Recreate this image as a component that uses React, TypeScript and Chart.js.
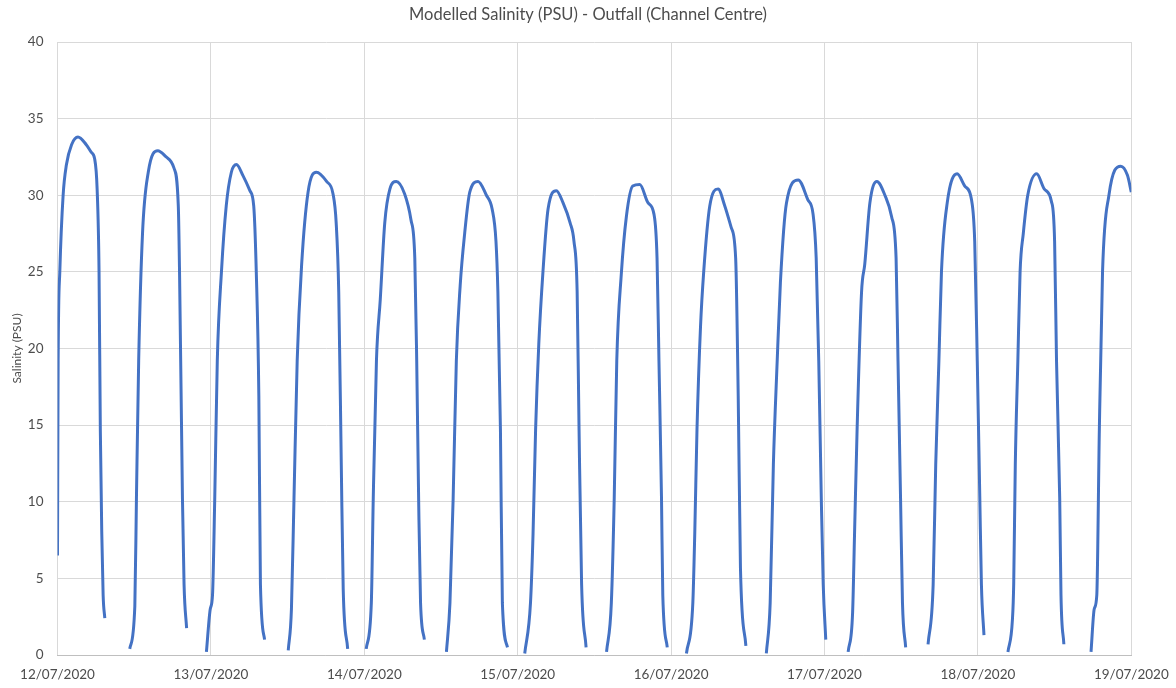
import React, { useEffect, useRef } from "react";
import { Chart, registerables } from "chart.js";

Chart.register(...registerables);

// Hours since 12/07/2020 00:00 (null entries separate the tidal cycles)
const hours: number[] = [
  0, 0.1, 0.36, 0.88, 1.4, 2.2, 3.2, 4.5, 5.3, 5.8, 6.2, 6.5, 6.7, 6.93, 7.14, 7.4,
  9.5,
  11.3, 12.1, 12.35, 12.7, 13.3, 14.2, 15.7, 17.0, 18.2, 18.9, 19.1, 19.55, 19.8, 20.2,
  22,
  23.3, 23.9, 24.25, 24.6, 25.0, 25.65, 26.4, 27.2, 28.0, 29.0, 30.1, 30.7, 31.1, 31.5, 31.75, 32.4,
  34,
  36.1, 36.6, 37.0, 37.5, 38.2, 39.2, 40.5, 42.1, 43.1, 43.6, 44.0, 44.4, 44.7, 45.4,
  47,
  48.3, 49.1, 49.4, 49.9, 50.5, 51.2, 52.0, 53.0, 54.3, 55.3, 55.9, 56.2, 56.5, 56.8, 57.4,
  59,
  60.85, 61.4, 61.9, 62.4, 63.0, 63.7, 64.5, 65.8, 67.1, 68.0, 68.6, 68.9, 69.3, 69.6, 70.4,
  72,
  73.1, 74.0, 74.4, 74.8, 75.3, 75.95, 76.75, 78.05, 79.1, 80.2, 80.8, 81.3, 81.6, 82.0, 82.7,
  84,
  85.9, 86.65, 87.1, 87.5, 88.2, 89.0, 90.0, 91.1, 92.4, 93.3, 93.8, 94.1, 94.5, 94.7, 95.4,
  97,
  98.4, 99.4, 99.7, 100.05, 100.6, 101.1, 102.05, 103.35, 104.4, 105.4, 106.1, 106.5, 106.85, 107.7,
  109,
  110.9, 111.5, 112.0, 112.6, 113.1, 114.05, 115.9, 117.4, 118.2, 118.7, 119.1, 119.5, 119.8, 120.2,
  122,
  123.7, 124.4, 124.7, 125.1, 125.8, 126.3, 127.1, 128.2, 129.45, 130.5, 131.2, 131.5, 131.9, 132.2, 132.7,
  134,
  136.2, 137.0, 137.4, 137.9, 138.3, 139.2, 140.75, 141.95, 143.0, 143.5, 143.9, 144.3, 144.55, 144.95,
  147,
  148.7, 149.4, 149.6, 149.85, 150.25, 150.6, 151.1, 151.8, 153.2, 154.4, 155.5, 156.0, 156.3, 156.8, 157.0, 157.45,
  159,
  161.7, 162.2, 162.6, 163.0, 163.5, 164.5, 166.35, 167.4, 168,
];

// Modelled salinity (PSU)
const salinity: (number | null)[] = [
  6.5, 19.2, 25, 30, 32, 33.3, 33.8, 33.3, 32.8, 32.4, 30.4, 25, 14.7, 7.9, 3.9, 2.4,
  null,
  0.4, 3.2, 10.2, 19.2, 27.5, 31.5, 32.9, 32.5, 31.8, 29.3, 24.8, 10.2, 4.6, 1.75,
  null,
  0.2, 3.0, 3.9, 10.2, 19.2, 25, 29.3, 31.5, 32.0, 31.3, 30.3, 29.3, 25, 16.9, 4.6, 1.0,
  null,
  0.3, 3.0, 10.2, 19.2, 25.5, 30.2, 31.5, 30.9, 30.1, 28.2, 23.7, 12.4, 4.3, 0.4,
  null,
  0.4, 3.4, 10.2, 19.2, 23.2, 28.2, 30.4, 30.9, 30.1, 28.4, 25.9, 19.2, 10.2, 3.4, 1.0,
  null,
  0.2, 3.4, 10.2, 19.2, 24.1, 27.5, 30.2, 30.9, 30.0, 29.1, 27.0, 23.7, 14.7, 3.4, 0.5,
  null,
  0.1, 3.4, 7.9, 14.7, 20.3, 25, 29.1, 30.3, 29.5, 28.2, 27.0, 23.7, 14.7, 4.6, 0.5,
  null,
  0.2, 3.4, 10.2, 19.2, 24.8, 28.6, 30.6, 30.7, 29.5, 28.8, 25.9, 19.2, 10.2, 3.9, 0.5,
  null,
  0.1, 3.4, 7.9, 14.7, 21.4, 25, 29.3, 30.4, 29.3, 27.9, 25.9, 16.9, 5.7, 0.6,
  null,
  0.1, 3.4, 12.4, 19.2, 24.3, 29.5, 31.0, 29.7, 28.8, 25.9, 19.2, 10.2, 4.6, 1.0,
  null,
  0.2, 2.8, 7.9, 14.7, 23.7, 25.5, 29.5, 30.9, 30.0, 28.6, 25.9, 19.2, 10.2, 3.4, 0.5,
  null,
  0.7, 4.6, 12.4, 19.2, 25, 29.5, 31.4, 30.6, 29.7, 27.0, 19.2, 10.2, 4.6, 1.3,
  null,
  0.2, 2.3, 4.6, 12.4, 19.2, 25, 27.5, 30, 31.4, 30.4, 29.6, 27, 19.2, 10.2, 3.9, 0.7,
  null,
  0.2, 3.0, 3.9, 14.7, 25, 30, 31.9, 31.3, 30.2,
];

const dayLabels: string[] = [
  "12/07/2020",
  "13/07/2020",
  "14/07/2020",
  "15/07/2020",
  "16/07/2020",
  "17/07/2020",
  "18/07/2020",
  "19/07/2020",
];

const chartTitle = "Modelled Salinity (PSU) - Outfall (Channel Centre)";
const yAxisTitle = "Salinity (PSU)";

export default function App() {
  const canvasRef = useRef<HTMLCanvasElement | null>(null);

  useEffect(() => {
    document.body.style.margin = "0";
    const canvas = canvasRef.current;
    if (!canvas) return;
    const points = hours.map((h, i) => ({ x: h, y: salinity[i] }));
    const font = "Lato, 'Open Sans', sans-serif";
    const chart = new Chart(canvas, {
      type: "line",
      data: {
        datasets: [
          {
            label: "Salinity",
            data: points as any,
            borderColor: "#4472C4",
            backgroundColor: "#4472C4",
            borderWidth: 3,
            pointRadius: 0,
            cubicInterpolationMode: "monotone",
            spanGaps: false,
            fill: false,
          },
        ],
      },
      options: {
        animation: false,
        responsive: false,
        devicePixelRatio: 1,
        layout: { padding: 0 },
        plugins: {
          legend: { display: false },
          tooltip: { enabled: false },
          title: {
            display: true,
            text: chartTitle,
            color: "#4d4d4d",
            font: { family: font, size: 16.5, weight: "normal" },
            padding: { top: 5, bottom: 17.2 },
          },
        },
        scales: {
          x: {
            type: "linear",
            min: 0,
            max: 168,
            grid: { color: "#d9d9d9", lineWidth: 1, drawTicks: false },
            border: { display: true, color: "#bfbfbf" },
            ticks: {
              stepSize: 24,
              autoSkip: false,
              maxRotation: 0,
              padding: 12,
              color: "#4d4d4d",
              font: { family: font, size: 13.5 },
              callback: (v: any) => {
                const idx = Math.round(Number(v) / 24);
                return dayLabels[idx] ?? "";
              },
            },
            afterFit: (axis: any) => {
              axis.height = 33;
              axis.paddingLeft = 0;
              axis.paddingRight = 44.7;
            },
          },
          y: {
            min: 0,
            max: 40,
            grid: { color: "#d9d9d9", lineWidth: 1, drawTicks: false },
            border: { display: false },
            ticks: {
              stepSize: 5,
              padding: 14,
              color: "#4d4d4d",
              font: { family: font, size: 13.5 },
            },
            title: {
              display: true,
              text: yAxisTitle,
              color: "#4d4d4d",
              font: { family: font, size: 12 },
              padding: { top: 10, bottom: 0 },
            },
            afterFit: (axis: any) => {
              axis.width = 57.5;
              axis.paddingTop = 0;
              axis.paddingBottom = 0;
            },
          },
        },
      },
    });
    return () => chart.destroy();
  }, []);

  return (
    <div style={{ position: "absolute", left: 0, top: 0, width: 1176, height: 688 }}>
      <canvas ref={canvasRef} width={1176} height={688} style={{ display: "block" }} />
    </div>
  );
}
